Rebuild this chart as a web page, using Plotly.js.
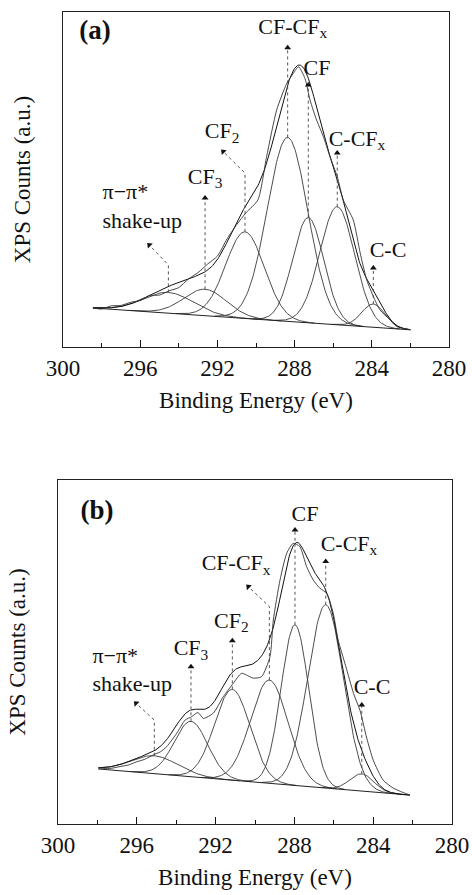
<!DOCTYPE html>
<html>
<head>
<meta charset="utf-8">
<script src="https://cdn.plot.ly/plotly-3.0.1.min.js"></script>
<style>
html,body{margin:0;padding:0;background:#fff;}
#chart{width:472px;height:895px;}
</style>
</head>
<body>
<div id="chart"></div>
<script>
// ---------------- DATA ----------------
const tickValues = [300, 296, 292, 288, 284, 280];
const tickLabels = ['300', '296', '292', '288', '284', '280'];
const minorTickValues = [298, 294, 290, 286, 282];
const componentNames = ['π−π*<br>shake-up', 'CF<sub>3</sub>', 'CF<sub>2</sub>', 'CF-CF<sub>x</sub>', 'CF', 'C-CF<sub>x</sub>', 'C-C'];
const panelNames = ['<b>(a)</b>', '<b>(b)</b>'];

// Panel (a): fitted components (centre eV, height above background, sigma eV)
const centersA = [294.54, 292.64, 290.57, 288.36, 287.29, 285.79, 283.92];
const heightsA = [5.8, 7.4, 24.2, 51.4, 29.4, 33.0, 6.5];
const sigmasA  = [1.30, 1.10, 1.00, 1.05, 0.80, 0.90, 0.60];
// Panel (a): linear background end points
const backgroundA_E = [298.45, 282.0];
const backgroundA_I = [17.3, 11.2];
// Panel (a): measured spectrum
const rawA_E = [298.45, 298.0, 297.5, 297.0, 296.5, 296.0, 295.5, 295.0, 294.5, 294.0, 293.5, 293.0, 292.5, 292.0, 291.5, 291.0, 290.5, 289.9, 289.45, 288.93, 288.41, 288.07, 287.8, 287.46, 287.2, 286.86, 286.51, 286.17, 285.79, 285.48, 284.96, 284.6, 284.26, 283.92, 283.58, 283.06, 282.71, 282.0];
const rawA_I = [17.3, 17.0, 17.9, 18.0, 18.9, 19.4, 20.8, 20.9, 22.1, 23.0, 25.4, 27.2, 29.6, 31.8, 36.6, 40.6, 44.0, 47.5, 59.6, 72.6, 80.0, 82.8, 84.7, 81.4, 75.4, 69.8, 65.2, 59.6, 54.0, 47.5, 41.9, 32.6, 25.1, 20.5, 16.8, 14.0, 12.1, 11.2];
// Panel (a): arrow tops (intensity) and optional slanted heads
const arrowTopA   = [29.3, 48.0, 55.0, 90.0, 79.6, 60.6, 28.5];
const arrowHeadA_E = [295.53, null, 291.70, null, null, null, null];
const arrowHeadA_I = [34.9, null, 61.0, null, null, null, null];

// Panel (b)
const centersB = [295.11, 293.25, 291.15, 289.27, 287.97, 286.41, 284.58];
const heightsB = [5.2, 16.1, 26.4, 30.0, 46.7, 53.3, 5.0];
const sigmasB  = [1.20, 0.85, 0.90, 0.95, 0.70, 0.90, 0.60];
const backgroundB_E = [297.95, 282.13];
const backgroundB_I = [16.0, 8.4];
const rawB_E = [297.95, 297.4, 296.85, 296.4, 296.0, 295.6, 295.16, 294.8, 294.48, 293.97, 293.55, 293.21, 292.9, 292.62, 292.12, 291.61, 291.1, 290.68, 290.09, 289.67, 289.24, 289.07, 288.73, 288.39, 288.06, 287.72, 287.38, 287.04, 286.7, 286.36, 286.03, 285.78, 285.4, 285.0, 284.67, 284.33, 284.0, 283.5, 283.0, 282.5, 282.13];
const rawB_I = [16.3, 16.1, 16.7, 17.2, 18.1, 18.8, 20.1, 21.0, 22.5, 26.4, 30.2, 31.2, 32.4, 30.7, 32.2, 37.0, 40.9, 43.8, 42.4, 42.8, 48.6, 59.3, 70.9, 78.7, 81.6, 80.6, 74.8, 70.9, 68.5, 67.1, 61.3, 53.5, 46.0, 38.0, 33.0, 25.0, 18.6, 12.8, 10.5, 9.2, 8.4];
const arrowTopB   = [30.2, 45.7, 53.3, 63.2, 85.5, 76.3, 34.6];
const arrowHeadB_E = [296.04, null, null, 290.34, null, null, null];
const arrowHeadB_I = [35.1, null, null, 69.0, null, null, null];

// ---------------- BUILD ----------------
const FONT = 'Liberation Serif';

// label placements (eV, intensity) – layout only
const labelPosA = [[297.95, 45.3], [292.64, 53.6], [291.76, 66.2], [288.1, 95.5], [286.84, 83.8], [284.77, 64.2], [283.16, 33]];
const labelPosB = [[298.25, 44.3], [293.25, 50.6], [291.2, 58.7], [290.96, 75.3], [287.46, 89.8], [285.23, 81.1], [284.06, 39.5]];
const panelLabelPos = [[298.34, 94.4], [298.02, 90.7]];

function bgAt(E, bE, bI) {
  const t = (E - bE[0]) / (bE[1] - bE[0]);
  return bI[0] + t * (bI[1] - bI[0]);
}
function gauss(E, c, h, s) { return h * Math.exp(-0.5 * ((E - c) / s) ** 2); }

function panelTraces(xa, ya, cen, hei, sig, bE, bI, rE, rI, top, hE, hI, labPos, panelIdx) {
  const tr = [];
  const step = 0.04;
  const eHi = bE[0], eLo = bE[1];
  for (let k = 0; k < cen.length; k++) {
    const xs = [], ys = [];
    const a = Math.min(eHi, cen[k] + 3.6 * sig[k]);
    const b = Math.max(eLo, cen[k] - 3.6 * sig[k]);
    for (let E = a; E >= b - 1e-9; E -= step) {
      xs.push(E); ys.push(bgAt(E, bE, bI) + gauss(E, cen[k], hei[k], sig[k]));
    }
    tr.push({x: xs, y: ys, xaxis: xa, yaxis: ya, type: 'scatter', mode: 'lines',
      line: {color: '#3a3a3a', width: 0.9}, hoverinfo: 'skip', showlegend: false});
  }
  tr.push({x: bE, y: bI, xaxis: xa, yaxis: ya, type: 'scatter', mode: 'lines',
    line: {color: '#222', width: 1}, hoverinfo: 'skip', showlegend: false});
  const fx = [], fy = [];
  for (let E = eHi; E >= eLo - 1e-9; E -= step) {
    let s = bgAt(E, bE, bI);
    for (let k = 0; k < cen.length; k++) s += gauss(E, cen[k], hei[k], sig[k]);
    fx.push(E); fy.push(s);
  }
  tr.push({x: fx, y: fy, xaxis: xa, yaxis: ya, type: 'scatter', mode: 'lines',
    line: {color: '#111', width: 1}, hoverinfo: 'skip', showlegend: false});
  tr.push({x: rE, y: rI, xaxis: xa, yaxis: ya, type: 'scatter', mode: 'lines',
    line: {color: '#333', width: 0.9, shape: 'spline', smoothing: 0.6}, hoverinfo: 'skip', showlegend: false});
  const hx = [], hy = [], ha = [];
  for (let k = 0; k < cen.length; k++) {
    const peak = bgAt(cen[k], bE, bI) + hei[k];
    const xs = [cen[k], cen[k]], ys = [peak, top[k]];
    if (hE[k] !== null) {
      xs.push(hE[k]); ys.push(hI[k]);
      hx.push(hE[k]); hy.push(hI[k]); ha.push(-45);
    } else {
      hx.push(cen[k]); hy.push(top[k]); ha.push(0);
    }
    tr.push({x: xs, y: ys, xaxis: xa, yaxis: ya, type: 'scatter', mode: 'lines',
      line: {color: '#444', width: 0.9, dash: 'dot'}, hoverinfo: 'skip', showlegend: false});
  }
  tr.push({x: hx, y: hy, xaxis: xa, yaxis: ya, type: 'scatter', mode: 'markers',
    marker: {symbol: 'triangle-up', size: 6, angle: ha, color: '#111', line: {width: 0}},
    hoverinfo: 'skip', showlegend: false});
  // component labels as text marks
  tr.push({x: labPos.map(p => p[0]), y: labPos.map(p => p[1]), text: componentNames, xaxis: xa, yaxis: ya,
    type: 'scatter', mode: 'text', cliponaxis: false,
    textposition: componentNames.map((_, k) => k === 0 ? 'middle right' : 'middle center'),
    textfont: {family: FONT, size: 22, color: '#111'}, hoverinfo: 'skip', showlegend: false});
  // panel letter
  tr.push({x: [panelLabelPos[panelIdx][0]], y: [panelLabelPos[panelIdx][1]], text: [panelNames[panelIdx]], xaxis: xa, yaxis: ya,
    type: 'scatter', mode: 'text', cliponaxis: false, textposition: 'middle center',
    textfont: {family: FONT, size: 27, color: '#111'}, hoverinfo: 'skip', showlegend: false});
  return tr;
}

const traces = [].concat(
  panelTraces('x', 'y', centersA, heightsA, sigmasA, backgroundA_E, backgroundA_I, rawA_E, rawA_I, arrowTopA, arrowHeadA_E, arrowHeadA_I, labelPosA, 0),
  panelTraces('x2', 'y2', centersB, heightsB, sigmasB, backgroundB_E, backgroundB_I, rawB_E, rawB_I, arrowTopB, arrowHeadB_E, arrowHeadB_I, labelPosB, 1)
);

function xAxis(domain, anchor) {
  return {domain: domain, anchor: anchor, range: [300, 280], tickmode: 'array', tickvals: tickValues, ticktext: tickLabels,
    ticks: 'inside', ticklen: 7, tickwidth: 1, tickcolor: '#111', showline: true, mirror: true, linecolor: '#222', linewidth: 1.3,
    showgrid: false, zeroline: false, tickfont: {family: FONT, size: 23, color: '#111'},
    minor: {tickmode: 'array', tickvals: minorTickValues, ticks: 'inside', ticklen: 4, tickwidth: 1, tickcolor: '#111', showgrid: false},
    title: {text: 'Binding Energy (eV)', font: {family: FONT, size: 23, color: '#111'}, standoff: 12}};
}
function yAxis(domain, anchor, range) {
  return {domain: domain, anchor: anchor, range: range, showticklabels: false, ticks: '', showline: true, mirror: true,
    linecolor: '#222', linewidth: 1.3, showgrid: false, zeroline: false,
    title: {text: 'XPS Counts (a.u.)', font: {family: FONT, size: 23, color: '#111'}, standoff: 24}};
}

const W = 472, H = 895;
const layout = {
  width: W, height: H, margin: {l: 0, r: 0, t: 0, b: 0}, paper_bgcolor: '#fff', plot_bgcolor: '#fff', showlegend: false,
  font: {family: FONT, size: 22, color: '#111'},
  xaxis: xAxis([63 / W, 449 / W], 'y'),
  yaxis: yAxis([1 - 347 / H, 1 - 12 / H], 'x', [6.4, 100]),
  xaxis2: xAxis([58 / W, 452 / W], 'y2'),
  yaxis2: yAxis([1 - 824 / H, 1 - 480 / H], 'x2', [0, 100])
};

Plotly.newPlot('chart', traces, layout, {staticPlot: true, displayModeBar: false});
</script>
</body>
</html>
